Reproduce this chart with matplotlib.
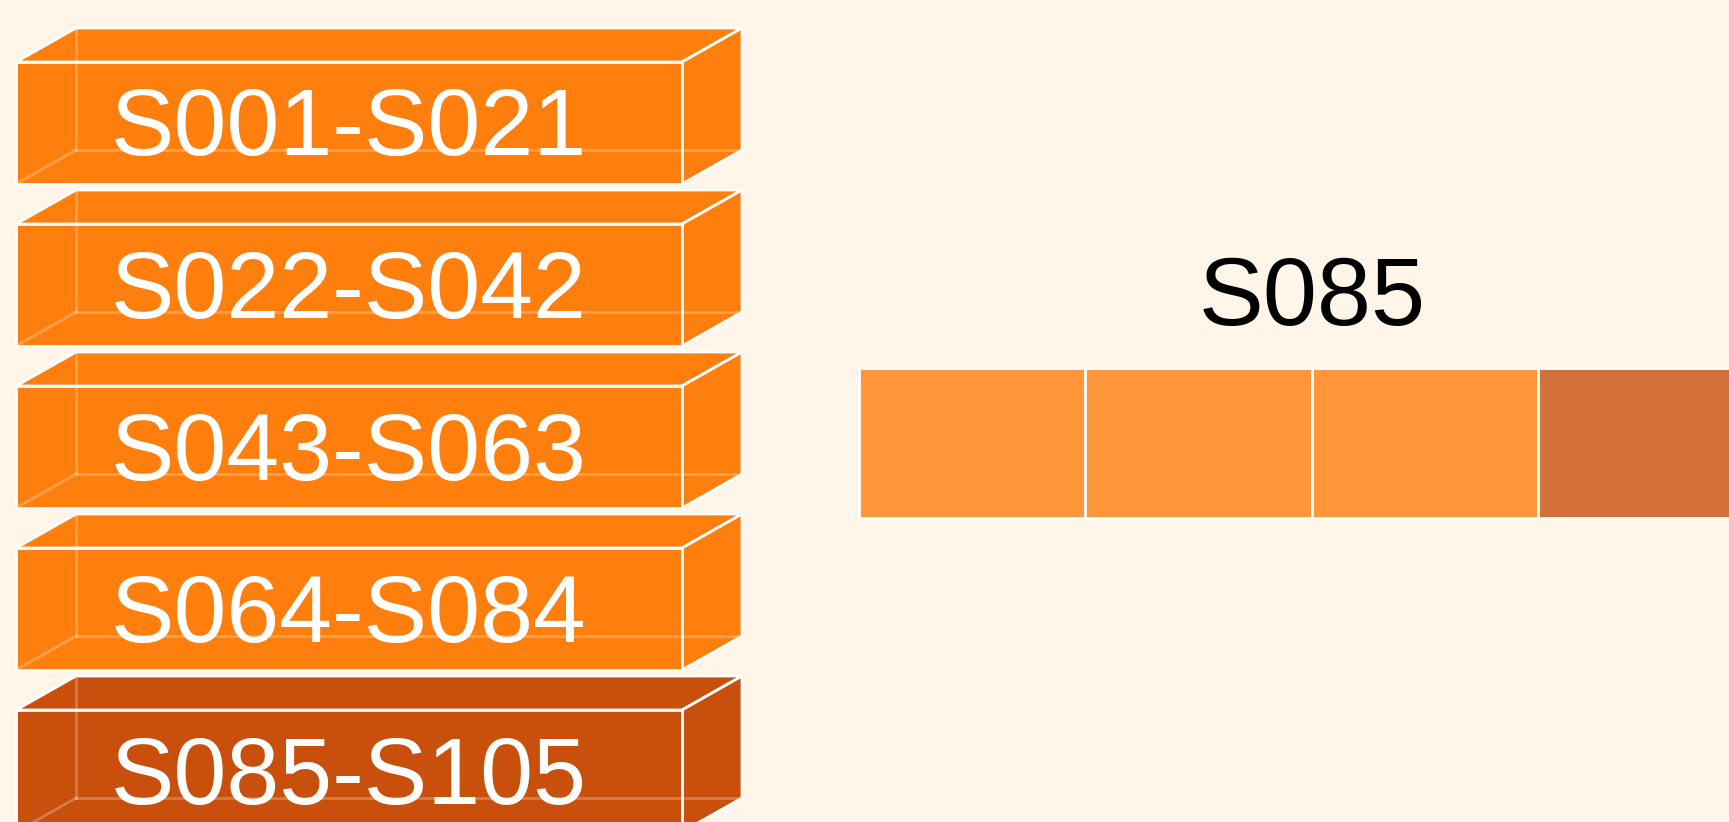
import matplotlib
matplotlib.use("Agg")
import matplotlib.pyplot as plt
from matplotlib.patches import Polygon, Rectangle

# ---- data ----
segment_labels = ["S001-S021", "S022-S042", "S043-S063", "S064-S084", "S085-S105"]
selected_segment = 4
selected_item = "S085"
cell_states = [0, 0, 0, 1]   # 1 = highlighted cell

# ---- style ----
BG = "#FFF5E8"
BOX = "#FF7F0E"
BOX_SEL = "#C84F0C"
CELL = "#FF973A"
CELL_SEL = "#D4703A"

W, H = 1729, 822
fig = plt.figure(figsize=(W / 100, H / 100), dpi=100, facecolor=BG)
ax = fig.add_axes([0, 0, 1, 1])
ax.set_facecolor(BG)
ax.set_xlim(0, W)
ax.set_ylim(H, 0)
ax.axis("off")

# box layout (in figure pixel units)
x0, bw, bh = 16, 666, 122
top0, pitch = 62, 162
dx, dy = 60, 34

for i, lab in enumerate(segment_labels):
    c = BOX_SEL if i == selected_segment else BOX
    y = top0 + i * pitch
    xl, xr, yt, yb = x0, x0 + bw, y, y + bh
    top = [(xl, yt), (xr, yt), (xr + dx, yt - dy), (xl + dx, yt - dy)]
    right = [(xr, yt), (xr + dx, yt - dy), (xr + dx, yb - dy), (xr, yb)]
    front = [(xl, yt), (xr, yt), (xr, yb), (xl, yb)]
    for poly in (top, right, front):
        ax.add_patch(Polygon(poly, closed=True, facecolor=c, edgecolor="white",
                             linewidth=2, joinstyle="miter", zorder=2))
    # hidden edges
    hx, hy = xl + dx, yb - dy
    ax.plot([hx, hx], [yt - dy, hy], color="white", alpha=0.25, lw=2, zorder=3)
    ax.plot([hx, xr + dx], [hy, hy], color="white", alpha=0.25, lw=2, zorder=3)
    ax.plot([hx, xl], [hy, yb], color="white", alpha=0.25, lw=2, zorder=3)
    ax.text((xl + xr) / 2, (yt + yb) / 2 + 8, lab, color="white", fontsize=68.5,
            family="Liberation Sans", ha="center", va="center", zorder=4)

# cells for selected item
cx0, cw, cy0, ch = 859, 226.5, 368, 150
for j, s in enumerate(cell_states):
    ax.add_patch(Rectangle((cx0 + j * cw, cy0), cw, ch,
                           facecolor=CELL_SEL if s else CELL,
                           edgecolor="white", linewidth=2, zorder=2))
ax.text(cx0 + len(cell_states) * cw / 2, 300, selected_item, color="black",
        fontsize=70, family="Liberation Sans", ha="center", va="center")

fig.savefig("out.png", dpi=100, facecolor=BG)
